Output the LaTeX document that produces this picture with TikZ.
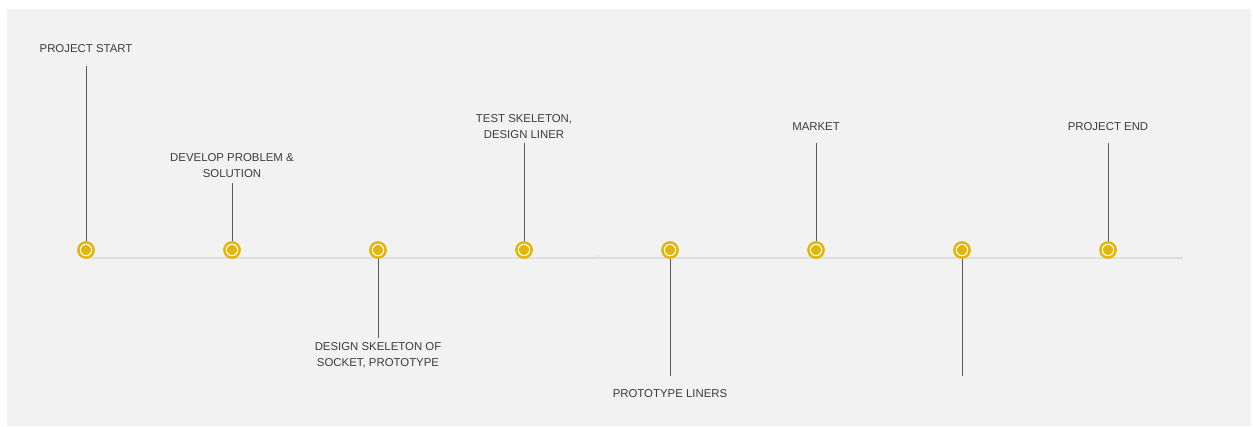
\documentclass[tikz,border=0pt]{standalone}
\usepackage{fontspec}
\setmainfont{Liberation Sans}
\begin{document}
\begin{tikzpicture}[x=1pt,y=-1pt,
  milestone/.style={circle,fill=gold,draw=gold,line width=1.2pt,minimum size=16.5pt,inner sep=0pt,
    path picture={\draw[white,line width=1.1pt] (path picture bounding box.center) circle (5.7pt);}},
  stem/.style={draw=stemgray,line width=0.9pt},
  caption/.style={font=\fontsize{11.4}{16}\selectfont,text=textgray,align=center,inner sep=0pt}]
\definecolor{gold}{HTML}{E3B505}
\definecolor{stemgray}{HTML}{5A5A5A}
\definecolor{textgray}{HTML}{3C3C3C}
\definecolor{bggray}{HTML}{F2F2F2}
\definecolor{axisgray}{HTML}{DEDEDE}
\useasboundingbox (0,0) rectangle (1253,426);
\fill[white] (0,0) rectangle (1253,426);
\fill[bggray] (7,9) rectangle (1251,426);
% timeline axis
\draw[axisgray,line width=1.6pt] (86,258) -- (1183,258);
\draw[axisgray,line width=0.8pt] (598,255) -- (598,258);
% stem end points
\coordinate (s1) at (86,66);
\coordinate (s2) at (232,183);
\coordinate (s3) at (378,338);
\coordinate (s4) at (524,143);
\coordinate (s5) at (670,376);
\coordinate (s6) at (816,143);
\coordinate (s7) at (962,376);
\coordinate (s8) at (1108,143);
\coordinate (c1) at (86,250);
\coordinate (c2) at (232,250);
\coordinate (c3) at (378,250);
\coordinate (c4) at (524,250);
\coordinate (c5) at (670,250);
\coordinate (c6) at (816,250);
\coordinate (c7) at (962,250);
\coordinate (c8) at (1108,250);
\foreach \i in {1,...,8} \draw[stem] (s\i) -- (c\i);
% milestones
\foreach \i in {1,...,8} \node[milestone] (d\i) at (c\i) {};
% captions (base anchor sits on the last line)
\node[caption,anchor=base] (t1) at (86,52) {PROJECT START};
\node[caption,anchor=base] (t2) at (232,177) {DEVELOP PROBLEM \&\\SOLUTION};
\node[caption,anchor=base] (t3) at (378,366) {DESIGN SKELETON OF\\SOCKET, PROTOTYPE};
\node[caption,anchor=base] (t4) at (524,138) {TEST SKELETON,\\DESIGN LINER};
\node[caption,anchor=base] (t5) at (670,397) {PROTOTYPE LINERS};
\node[caption,anchor=base] (t6) at (816,130) {MARKET};
\node[caption,anchor=base] (t8) at (1108,130) {PROJECT END};
\end{tikzpicture}
\end{document}
